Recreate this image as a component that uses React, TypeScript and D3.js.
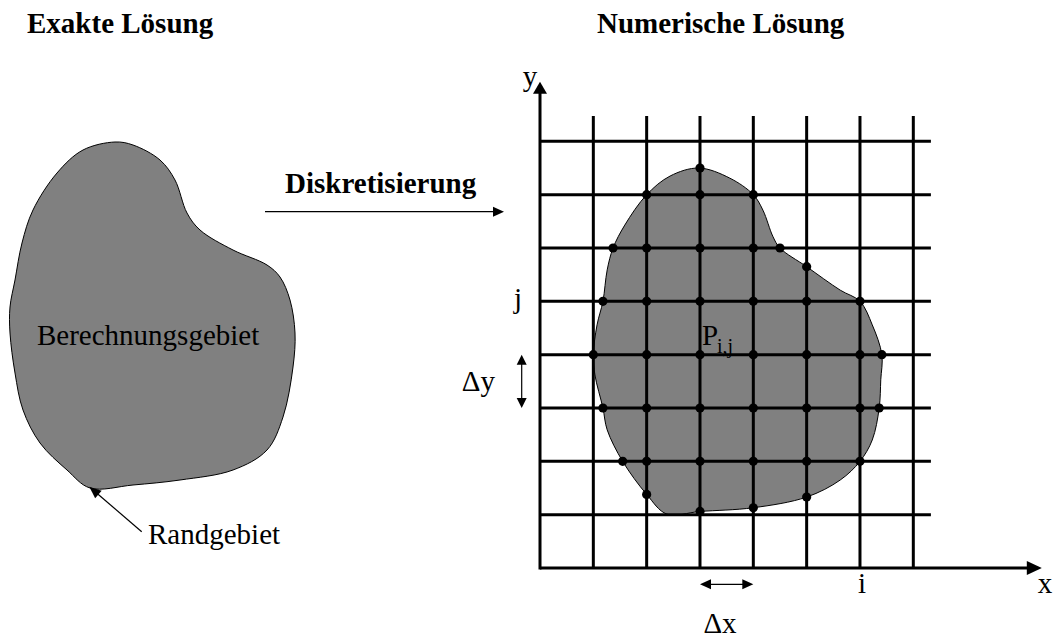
import React from "react";
import * as d3 from "d3";

// ---- data (grid units: one unit = one grid cell) ----
const gridCols = [1, 2, 3, 4, 5, 6, 7];
const gridRows = [1, 2, 3, 4, 5, 6, 7, 8];

// intersection nodes [i, j]
const innerNodes: [number, number][] = [
  [2, 7], [3, 7], [4, 7],
  [2, 6], [3, 6], [4, 6],
  [2, 5], [3, 5], [4, 5], [5, 5], [6, 5],
  [1, 4], [2, 4], [3, 4], [4, 4], [5, 4], [6, 4],
  [2, 3], [3, 3], [4, 3], [5, 3], [6, 3],
  [2, 2], [3, 2], [4, 2], [5, 2], [6, 2],
];

// boundary nodes (off-grid intersections with the boundary)
const boundaryNodes: [number, number][] = [
  [3, 7.5], [1.37, 6], [4.5, 6], [5, 5.65], [1.18, 5], [6.41, 4],
  [1.18, 3], [6.36, 3], [1.55, 2], [2, 1.38], [3, 1.06], [4, 1.13], [5, 1.33],
];

// right domain outline (grid units)
const domainOutline: [number, number][] = [
  [2.98, 7.5], [3.56, 7.31], [4, 7], [4.18, 6.71], [4.37, 6.21], [4.5, 6],
  [5, 5.65], [5.63, 5.21], [6, 5], [6.23, 4.56], [6.41, 4], [6.39, 3.53],
  [6.36, 3], [6.23, 2.4], [6, 2], [5.63, 1.65], [5, 1.33], [4, 1.13],
  [3, 1.06], [2.38, 1.01], [2, 1.38], [1.55, 2], [1.26, 2.59], [1.18, 3],
  [1.03, 3.62], [1, 4], [1.07, 4.56], [1.18, 5], [1.26, 5.59], [1.37, 6],
  [1.59, 6.43], [2, 7], [2.44, 7.35],
];

// left domain outline (page units)
const exactOutline: [number, number][] = [
  [115, 142], [133, 145], [160, 160], [175, 180], [187, 213], [200, 230],
  [233, 250], [267, 265], [280, 277], [290, 300], [295, 333], [293, 367],
  [283, 417], [267, 450], [233, 470], [180, 480], [133, 485], [90, 488],
  [67, 470], [40, 443], [23, 410], [15, 373], [10, 333], [10, 307],
  [15, 280], [22, 243], [33, 210], [57, 173], [83, 150],
];

const titleLeft = "Exakte Lösung";
const titleRight = "Numerische Lösung";
const arrowLabel = "Diskretisierung";
const regionLabel = "Berechnungsgebiet";
const boundaryLabel = "Randgebiet";

const FONT = "'Liberation Serif', 'Times New Roman', serif";

function Tri({ tip, dir, len, half }: { tip: [number, number]; dir: [number, number]; len: number; half: number }) {
  const [tx, ty] = tip;
  const [dx, dy] = dir;
  const n = Math.hypot(dx, dy);
  const ux = dx / n, uy = dy / n;
  const bx = tx - ux * len, by = ty - uy * len;
  const px = -uy, py = ux;
  const pts = [
    [tx, ty],
    [bx + px * half, by + py * half],
    [bx - px * half, by - py * half],
  ];
  return <polygon points={pts.map((p) => p.join(",")).join(" ")} fill="#000" />;
}

export default function App() {
  const W = 1053, H = 639;
  const x = d3.scaleLinear().domain([0, 1]).range([540, 593.33]);
  const y = d3.scaleLinear().domain([0, 1]).range([568, 514.67]);
  const px = d3.scaleLinear().domain([0, 1]).range([0, 1]);

  const lineGrid = d3
    .line<[number, number]>()
    .x((d) => x(d[0]))
    .y((d) => y(d[1]))
    .curve(d3.curveCatmullRomClosed.alpha(0.5));
  const linePage = d3
    .line<[number, number]>()
    .x((d) => px(d[0]))
    .y((d) => px(d[1]))
    .curve(d3.curveCatmullRomClosed.alpha(0.5));

  const gridTop = 8.475;
  const gridRight = 7.33;
  const xAxisEnd = 9.41;
  const yAxisEnd = 9.12;

  return (
    <svg width={W} height={H} style={{ position: "absolute", left: 0, top: 0, background: "#fff" }} fontFamily={FONT}>
      {/* titles */}
      <text x={27} y={33} fontSize={29} fontWeight="bold">{titleLeft}</text>
      <text x={597} y={33} fontSize={29} fontWeight="bold">{titleRight}</text>

      {/* exact domain */}
      <path d={linePage(exactOutline) || ""} fill="#808080" stroke="#000" strokeWidth={1} />
      <text x={37} y={345} fontSize={29}>{regionLabel}</text>

      {/* boundary pointer */}
      <line x1={141.7} y1={531.7} x2={96} y2={492.5} stroke="#000" strokeWidth={1.2} />
      <Tri tip={[89.3, 486.7]} dir={[89.3 - 141.7, 486.7 - 531.7]} len={12} half={5} />
      <text x={148} y={544} fontSize={29}>{boundaryLabel}</text>

      {/* discretisation arrow */}
      <text x={285} y={193} fontSize={29} fontWeight="bold">{arrowLabel}</text>
      <line x1={265} y1={211.7} x2={494} y2={211.7} stroke="#000" strokeWidth={1.2} />
      <Tri tip={[504, 211.7]} dir={[1, 0]} len={11} half={5} />

      {/* numeric domain */}
      <path d={lineGrid(domainOutline) || ""} fill="#808080" stroke="#000" strokeWidth={1} />

      {/* grid */}
      {gridCols.map((c) => (
        <line key={"v" + c} x1={x(c)} x2={x(c)} y1={y(0)} y2={y(gridTop)} stroke="#000" strokeWidth={3} />
      ))}
      {gridRows.map((r) => (
        <line key={"h" + r} x1={x(0)} x2={x(gridRight)} y1={y(r)} y2={y(r)} stroke="#000" strokeWidth={3} />
      ))}

      {/* axes */}
      <line x1={x(0)} x2={x(xAxisEnd) - 12} y1={y(0)} y2={y(0)} stroke="#000" strokeWidth={3} />
      <Tri tip={[x(xAxisEnd), y(0)]} dir={[1, 0]} len={15} half={7} />
      <line x1={x(0)} x2={x(0)} y1={y(0) + 1.5} y2={y(yAxisEnd) + 10} stroke="#000" strokeWidth={3} />
      <Tri tip={[x(0), y(yAxisEnd)]} dir={[0, -1]} len={12} half={7} />
      <text x={1045} y={593} fontSize={29} textAnchor="middle">x</text>
      <text x={530} y={86} fontSize={29} textAnchor="middle">y</text>

      {/* nodes */}
      {innerNodes.concat(boundaryNodes).map(([i, j], k) => (
        <circle key={"n" + k} cx={x(i)} cy={y(j)} r={4.6} fill="#000" />
      ))}

      {/* labels */}
      <text x={702} y={345} fontSize={29}>P</text>
      <text x={717} y={353} fontSize={20}>i,j</text>
      <text x={518} y={308} fontSize={29} textAnchor="middle">j</text>
      <text x={862} y={593} fontSize={29} textAnchor="middle">i</text>

      {/* Δy */}
      <line x1={521.7} x2={521.7} y1={y(4) + 9} y2={y(3) - 9} stroke="#000" strokeWidth={1.2} />
      <Tri tip={[521.7, y(4)]} dir={[0, -1]} len={10} half={5} />
      <Tri tip={[521.7, y(3)]} dir={[0, 1]} len={10} half={5} />
      <text x={495} y={391} fontSize={29} textAnchor="end">Δy</text>

      {/* Δx */}
      <line x1={x(3) + 9} x2={x(4) - 9} y1={584.3} y2={584.3} stroke="#000" strokeWidth={1.2} />
      <Tri tip={[x(3), 584.3]} dir={[-1, 0]} len={11} half={5} />
      <Tri tip={[x(4), 584.3]} dir={[1, 0]} len={11} half={5} />
      <text x={720} y={633} fontSize={29} textAnchor="middle">Δx</text>
    </svg>
  );
}
